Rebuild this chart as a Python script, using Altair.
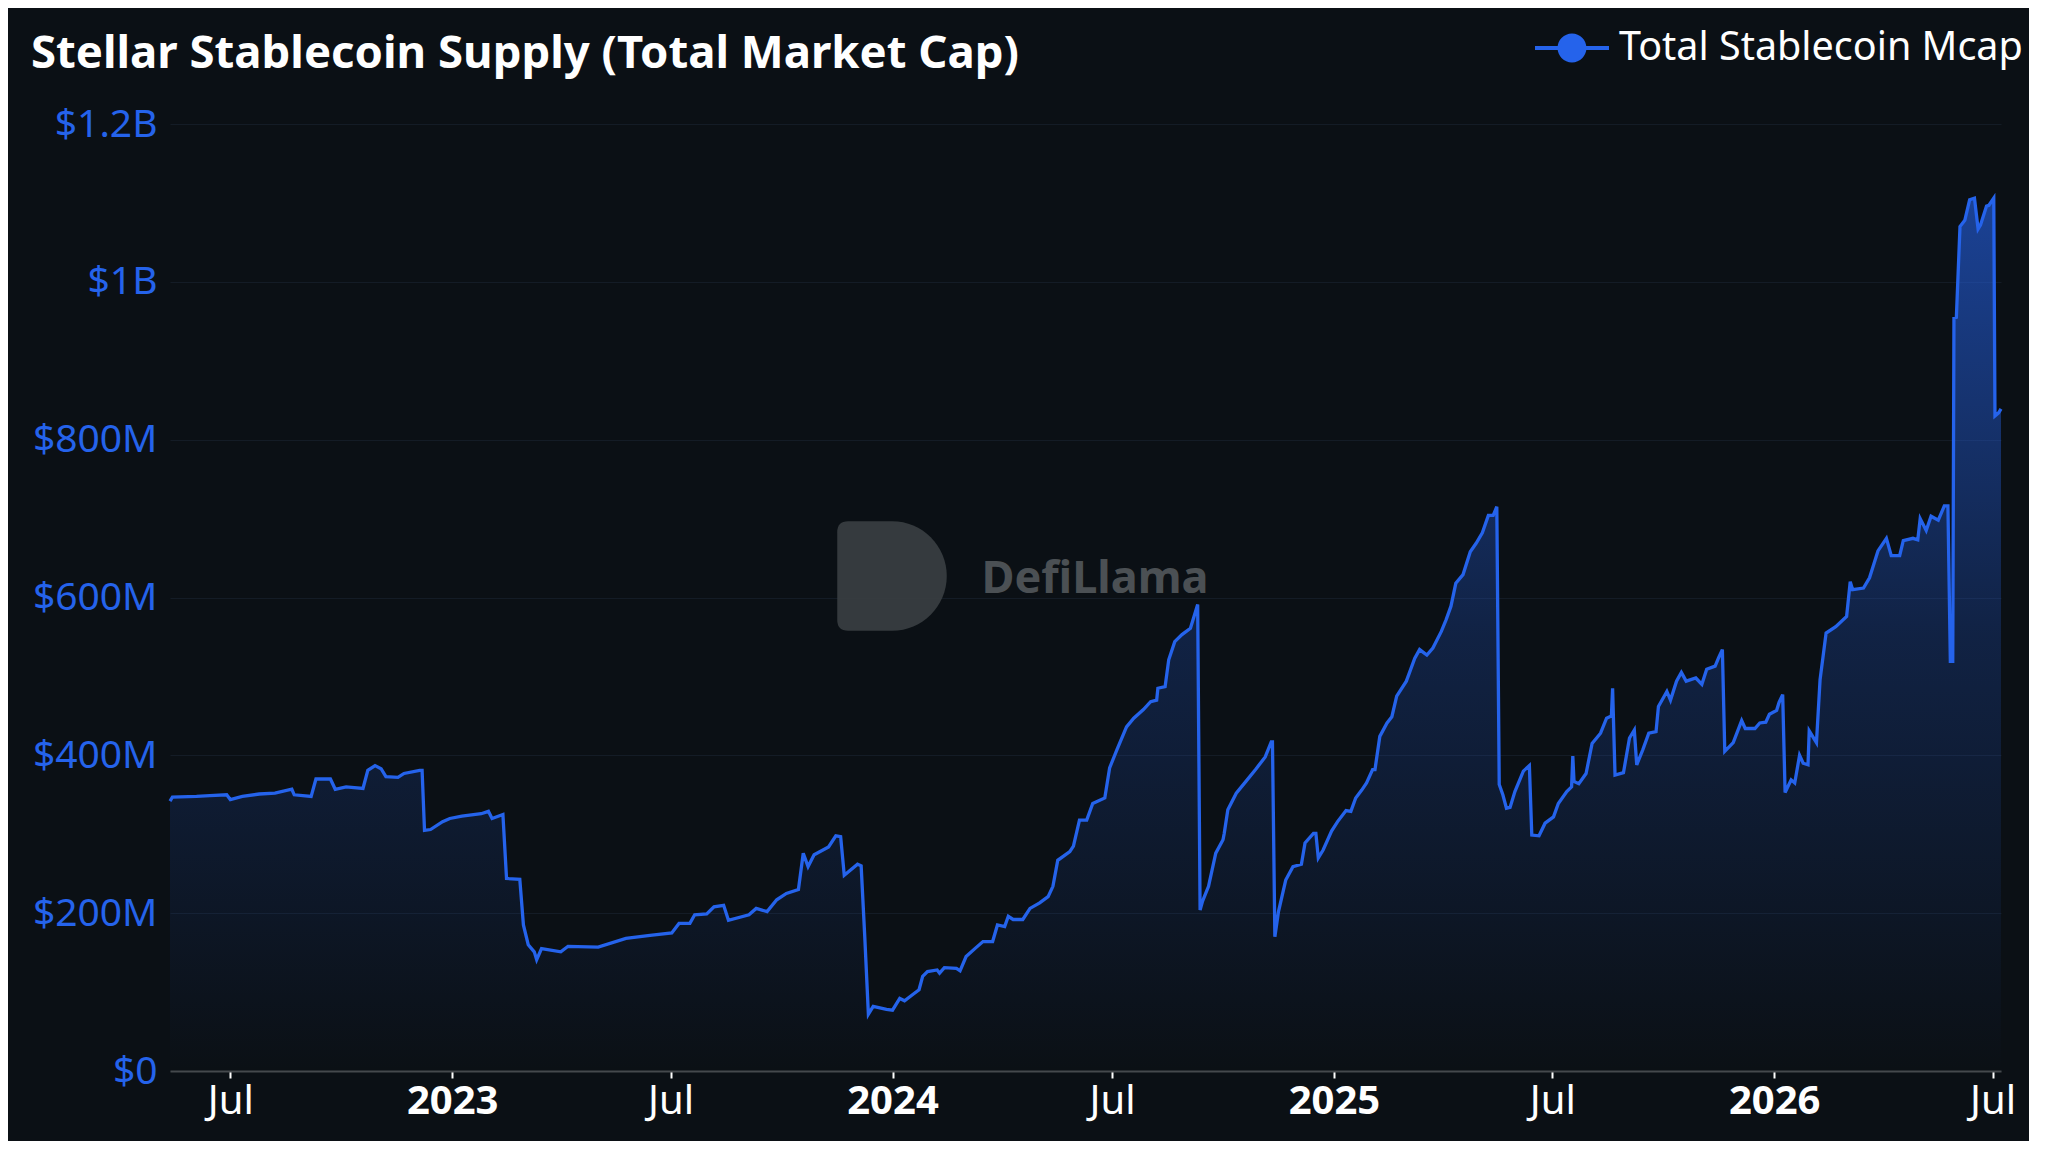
import altair as alt
import pandas as pd

# ---- data (values in $M) ----
dates = [
    "2022-05-12", "2022-05-14", "2022-06-03", "2022-06-14", "2022-06-28", "2022-07-01", "2022-07-11",
    "2022-07-25", "2022-08-07", "2022-08-21", "2022-08-23", "2022-09-06", "2022-09-10", "2022-09-22",
    "2022-09-26", "2022-10-05", "2022-10-19", "2022-10-23", "2022-10-29", "2022-11-03", "2022-11-07",
    "2022-11-17", "2022-11-22", "2022-12-05", "2022-12-07", "2022-12-09", "2022-12-14", "2022-12-24",
    "2022-12-30", "2023-01-09", "2023-01-25", "2023-01-31", "2023-02-03", "2023-02-12", "2023-02-15",
    "2023-02-26", "2023-03-01", "2023-03-05", "2023-03-10", "2023-03-12", "2023-03-16", "2023-04-01",
    "2023-04-07", "2023-05-02", "2023-05-25", "2023-06-14", "2023-07-02", "2023-07-08", "2023-07-17",
    "2023-07-21", "2023-07-31", "2023-08-06", "2023-08-14", "2023-08-18", "2023-09-04", "2023-09-10",
    "2023-09-19", "2023-09-27", "2023-10-05", "2023-10-15", "2023-10-19", "2023-10-23", "2023-10-28",
    "2023-11-09", "2023-11-15", "2023-11-19", "2023-11-22", "2023-12-03", "2023-12-06", "2023-12-09",
    "2023-12-12", "2023-12-16", "2023-12-27", "2024-01-01", "2024-01-07", "2024-01-11", "2024-01-17",
    "2024-01-23", "2024-01-26", "2024-01-30", "2024-02-07", "2024-02-09", "2024-02-13", "2024-02-23",
    "2024-02-26", "2024-03-02", "2024-03-10", "2024-03-16", "2024-03-24", "2024-03-28", "2024-04-03",
    "2024-04-06", "2024-04-10", "2024-04-18", "2024-04-24", "2024-05-02", "2024-05-09", "2024-05-13",
    "2024-05-17", "2024-05-27", "2024-05-30", "2024-06-04", "2024-06-10", "2024-06-15", "2024-06-25",
    "2024-06-29", "2024-07-05", "2024-07-13", "2024-07-19", "2024-07-27", "2024-08-02", "2024-08-07",
    "2024-08-08", "2024-08-14", "2024-08-17", "2024-08-22", "2024-08-28", "2024-09-04", "2024-09-10",
    "2024-09-12", "2024-09-14", "2024-09-19", "2024-09-25", "2024-10-01", "2024-10-02", "2024-10-05",
    "2024-10-12", "2024-10-20", "2024-10-28", "2024-11-05", "2024-11-10", "2024-11-11", "2024-11-13",
    "2024-11-16", "2024-11-22", "2024-11-28", "2024-12-05", "2024-12-08", "2024-12-15", "2024-12-17",
    "2024-12-19", "2024-12-23", "2024-12-30", "2025-01-04", "2025-01-11", "2025-01-15", "2025-01-19",
    "2025-01-24", "2025-01-28", "2025-02-02", "2025-02-04", "2025-02-08", "2025-02-14", "2025-02-18",
    "2025-02-22", "2025-03-02", "2025-03-09", "2025-03-13", "2025-03-19", "2025-03-24", "2025-03-31",
    "2025-04-04", "2025-04-08", "2025-04-12", "2025-04-18", "2025-04-24", "2025-04-29", "2025-05-04",
    "2025-05-09", "2025-05-13", "2025-05-16", "2025-05-18", "2025-05-21", "2025-05-24", "2025-05-27",
    "2025-05-31", "2025-06-07", "2025-06-12", "2025-06-14", "2025-06-20", "2025-06-25", "2025-07-02",
    "2025-07-06", "2025-07-13", "2025-07-17", "2025-07-18", "2025-07-19", "2025-07-23", "2025-07-29",
    "2025-08-03", "2025-08-10", "2025-08-15", "2025-08-19", "2025-08-20", "2025-08-22", "2025-08-29",
    "2025-09-03", "2025-09-07", "2025-09-09", "2025-09-14", "2025-09-19", "2025-09-25", "2025-09-27",
    "2025-10-04", "2025-10-07", "2025-10-12", "2025-10-16", "2025-10-20", "2025-10-28", "2025-11-02",
    "2025-11-06", "2025-11-13", "2025-11-16", "2025-11-19", "2025-11-21", "2025-11-28", "2025-12-05",
    "2025-12-08", "2025-12-16", "2025-12-20", "2025-12-25", "2025-12-28", "2026-01-03", "2026-01-05",
    "2026-01-08", "2026-01-10", "2026-01-15", "2026-01-18", "2026-01-22", "2026-01-25", "2026-01-29",
    "2026-01-30", "2026-02-05", "2026-02-08", "2026-02-13", "2026-02-21", "2026-03-02", "2026-03-05",
    "2026-03-07", "2026-03-16", "2026-03-21", "2026-03-28", "2026-04-04", "2026-04-08", "2026-04-15",
    "2026-04-18", "2026-04-26", "2026-04-30", "2026-05-02", "2026-05-07", "2026-05-11", "2026-05-17",
    "2026-05-22", "2026-05-25", "2026-05-27", "2026-05-29", "2026-05-30", "2026-06-01", "2026-06-04",
    "2026-06-08", "2026-06-12", "2026-06-16", "2026-06-19", "2026-06-21", "2026-06-26", "2026-06-28",
    "2026-07-02", "2026-07-03", "2026-07-06", "2026-07-08",
]
mcap_musd = [
    342, 347, 348, 349, 350, 344, 348,
    351, 352, 357, 350, 348, 370, 370,
    357, 360, 358, 381, 387, 383, 373,
    372, 377, 381, 381, 305, 306, 316,
    320, 323, 326, 329, 320, 325, 244,
    243, 185, 160, 151, 141, 155, 151,
    158, 157, 168, 172, 175, 187, 187,
    198, 199, 208, 210, 191, 198, 206,
    202, 217, 225, 230, 276, 259, 274,
    284, 298, 297, 248, 262, 260, 170,
    72, 82, 78, 77, 92, 89, 96,
    103, 120, 126, 128, 124, 131, 130,
    127, 145, 156, 164, 164, 185, 183,
    196, 192, 192, 206, 213, 221, 234,
    267, 278, 285, 318, 318, 339, 346,
    384, 407, 436, 447, 458, 468, 470,
    485, 487, 521, 544, 553, 561, 591,
    204, 215, 234, 276, 293, 301, 331,
    352, 367, 382, 398, 417, 417, 170,
    202, 242, 259, 262, 289, 301, 301,
    270, 280, 304, 316, 330, 329, 346,
    356, 365, 382, 382, 424, 441, 449,
    475, 494, 523, 534, 527, 536, 557,
    572, 589, 618, 629, 658, 669, 682,
    704, 704, 715, 363, 350, 333, 334,
    354, 380, 387, 299, 298, 314, 322,
    339, 354, 360, 399, 367, 364, 377,
    415, 428, 447, 450, 485, 375, 378,
    422, 432, 388, 407, 428, 430, 462,
    481, 470, 494, 505, 494, 498, 490,
    509, 513, 524, 534, 405, 416, 444,
    434, 434, 441, 442, 452, 457, 467,
    477, 353, 369, 365, 400, 390, 388,
    431, 416, 496, 555, 563, 576, 620,
    610, 612, 625, 659, 675, 653, 653,
    672, 675, 673, 700, 685, 703, 698,
    716, 716, 519, 519, 954, 955, 1070,
    1078, 1104, 1106, 1067, 1072, 1096, 1097,
    1106, 830, 834, 839,
]
series_name = "Total Stablecoin Mcap"
title_text = "Stellar Stablecoin Supply (Total Market Cap)"
watermark_text = "DefiLlama"
x_tick_dates = [(2022, 7), (2023, 1), (2023, 7), (2024, 1), (2024, 7),
                (2025, 1), (2025, 7), (2026, 1), (2026, 7)]
y_ticks = [0, 200, 400, 600, 800, 1000, 1200]

# ---- styling ----
BG = "#0b1015"
BLUE = "#2563eb"
FONT = "Noto Sans"

df = pd.DataFrame({
    "date": pd.to_datetime(dates),
    "mcap": mcap_musd,
    "series": series_name,
})

x_enc = alt.X(
    "date:T",
    title=None,
    scale=alt.Scale(domain=[alt.DateTime(year=2022, month=5, date=12),
                            alt.DateTime(year=2026, month=7, date=8)], nice=False),
    axis=alt.Axis(
        values=[alt.DateTime(year=y, month=m, date=1) for y, m in x_tick_dates],
        labelExpr="month(datum.value) == 0 ? timeFormat(datum.value, '%Y') : 'Jul'",
        labelFontWeight={"condition": {"test": "month(datum.value) == 0", "value": "bold"},
                         "value": "normal"},
        labelColor="#ffffff",
        labelFontSize=40,
        labelFont=FONT,
        labelPadding=3,
        tickColor="#ffffff",
        tickSize=7,
        tickWidth=2,
        domainColor="#45494d",
        domainWidth=2,
        grid=False,
        labelFlush=False,
    ),
)
y_enc = alt.Y(
    "mcap:Q",
    title=None,
    scale=alt.Scale(domain=[0, 1200], nice=False),
    axis=alt.Axis(
        values=y_ticks,
        labelExpr="datum.value == 0 ? '$0' : (datum.value >= 1000 ? '$' + format(datum.value / 1000, '.1~f') + 'B' : '$' + format(datum.value, 'd') + 'M')",
        labelColor=BLUE,
        labelFontSize=39,
        labelFont=FONT,
        labelPadding=13,
        domain=False,
        ticks=False,
        grid=True,
        gridColor="#141c26",
        gridWidth=1,
    ),
)

base = alt.Chart(df)

area = base.mark_area(
    line=False,
    color=alt.Gradient(
        gradient="linear",
        stops=[
            alt.GradientStop(color="rgba(37,99,235,0.60)", offset=0),
            alt.GradientStop(color="rgba(37,99,235,0.22)", offset=0.5),
            alt.GradientStop(color="rgba(37,99,235,0.0)", offset=1),
        ],
        x1=0, x2=0, y1=0, y2=1,
    ),
).encode(x=x_enc, y=y_enc)

line = base.mark_line(strokeWidth=3.3).encode(
    x=x_enc,
    y=y_enc,
    color=alt.Color(
        "series:N",
        scale=alt.Scale(domain=[series_name], range=[BLUE]),
        legend=alt.Legend(
            title=None,
            orient="none",
            legendX=1365,
            legendY=-113,
            symbolType="M-1,-0.055H1V0.055H-1Z M0.39,0A0.39,0.39,0,1,1,-0.39,0A0.39,0.39,0,1,1,0.39,0Z",
            symbolSize=5476,
            symbolFillColor=BLUE,
            symbolStrokeWidth=0,
            labelColor="#ffffff",
            labelFontSize=39.5,
            labelFont=FONT,
            labelOffset=10,
            labelLimit=0,
            padding=0,
        ),
    ),
)

text_df = pd.DataFrame({"t": [watermark_text], "title": [title_text]})

title_mark = alt.Chart(text_df).mark_text(
    font=FONT, fontSize=45.5, fontWeight="bold", color="#ffffff", align="left", baseline="middle"
).encode(text="title:N", x=alt.value(-139), y=alt.value(-70))

watermark = alt.Chart(text_df).mark_text(
    font=FONT, fontSize=45, fontWeight="bold", color="#4b5054", align="center", baseline="middle"
).encode(text="t:N", x=alt.value(925), y=alt.value(455))

logo = alt.Chart(text_df).mark_point(
    shape="M-1,-0.8Q-1,-1,-0.8,-1H0A1,1,0,0,1,0,1H-0.8Q-1,1,-1,0.8Z",
    size=12000, filled=True, color="#3a3f43", opacity=0.9, strokeWidth=0,
).encode(x=alt.value(722), y=alt.value(452))

chart = alt.layer(logo, watermark, area, line, title_mark).properties(
    width=1831,
    height=947,
    background=BG,
    padding={"left": 162, "top": 116, "right": 28, "bottom": 70},
    autosize=alt.AutoSizeParams(type="none"),
).configure_view(stroke=None)

chart.save("out.html", embed_options={"renderer": "svg", "actions": False})
